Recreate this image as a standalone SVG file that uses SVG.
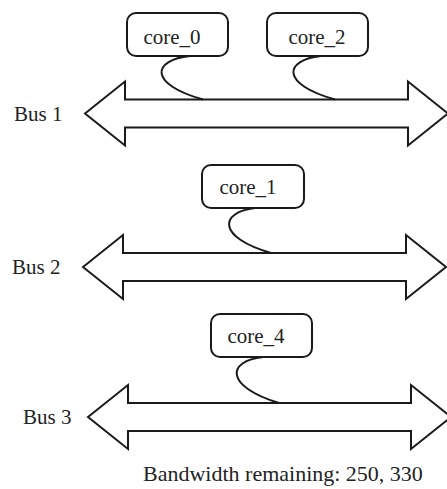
<svg xmlns="http://www.w3.org/2000/svg" width="447" height="489" viewBox="0 0 447 489">
  <style>
    .bus { fill: #ffffff; stroke: #1a1a1a; stroke-width: 2; stroke-linejoin: miter; }
    .core rect { fill: #ffffff; stroke: #1a1a1a; stroke-width: 2; }
    .link { fill: none; stroke: #1a1a1a; stroke-width: 2; }
    text { font-family: "Liberation Serif", "Times New Roman", serif; font-size: 21px; fill: #222222; }
    .note { font-size: 22px; }
  </style>
  <defs>
    <!-- double-headed bus arrow, origin at the left tip -->
    <path id="busShape" d="M0,0 L40,-32 L40,-14 L323,-14 L323,-32 L363,0 L323,32 L323,14 L40,14 L40,32 Z"/>
  </defs>

  <rect width="447" height="489" fill="#ffffff"/>

  <g id="bus1">
    <use href="#busShape" class="bus" transform="translate(85,113.5)"/>
    <text x="14" y="121">Bus 1</text>
  </g>
  <g id="bus2">
    <use href="#busShape" class="bus" transform="translate(83,267)"/>
    <text x="12" y="274">Bus 2</text>
  </g>
  <g id="bus3">
    <use href="#busShape" class="bus" transform="translate(88,417)"/>
    <text x="23" y="424">Bus 3</text>
  </g>

  <g id="connectors">
    <path class="link" d="M190,56 C152,60 148,84 203,99.5"/>
    <path class="link" d="M321,56 C284,60 280,84 335,99.5"/>
    <path class="link" d="M255,208 C220,212 216,237 271,253"/>
    <path class="link" d="M263,357 C227,361 224,386 279,403"/>
  </g>

  <g id="core_0" class="core">
    <rect x="127" y="13" width="101" height="43" rx="9"/>
    <text x="172" y="44" text-anchor="middle">core_0</text>
  </g>
  <g id="core_2" class="core">
    <rect x="267" y="13" width="101" height="43" rx="9"/>
    <text x="317" y="44" text-anchor="middle">core_2</text>
  </g>
  <g id="core_1" class="core">
    <rect x="202" y="165" width="102" height="43" rx="9"/>
    <text x="248" y="194" text-anchor="middle">core_1</text>
  </g>
  <g id="core_4" class="core">
    <rect x="211" y="314" width="101" height="43" rx="9"/>
    <text x="256" y="343" text-anchor="middle">core_4</text>
  </g>

  <text id="bandwidth" class="note" x="143" y="481">Bandwidth remaining: 250, 330</text>
</svg>
